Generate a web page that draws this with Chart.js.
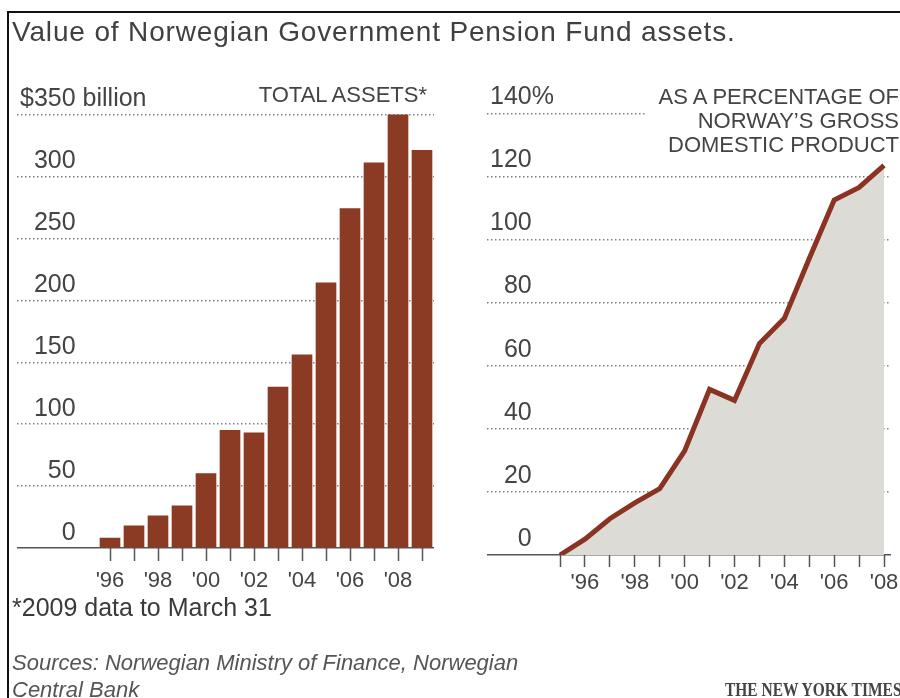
<!DOCTYPE html>
<html lang="en">
<head>
  <meta charset="UTF-8" />
  <title>Value of Norwegian Government Pension Fund assets</title>
  <script src="https://cdn.jsdelivr.net/npm/chart.js"></script>
  <style>
    body {
      margin: 0;
      background: #fff;
      font-family: "Liberation Sans", Arial, sans-serif;
      color: #333;
    }
    .page {
      position: relative;
      width: 900px;
      height: 698px;
      overflow: hidden;
    }
    .frame {
      position: absolute;
      left: 7px;
      top: 11px;
      right: -10px;
      bottom: -10px;
      border-left: 2px solid #111;
      border-top: 2px solid #111;
    }
    .chart-box {
      position: absolute;
      top: 0;
      height: 698px;
    }
    #leftBox { left: 0; width: 450px; }
    #rightBox { left: 450px; width: 480px; }
    .txt {
      position: absolute;
      white-space: nowrap;
    }
    .title {
      left: 12px; top: 18px;
      font-size: 28px; line-height: 28px;
      letter-spacing: 0.85px;
      color: #404040;
    }
    .tag {
      font-size: 22px; line-height: 24px;
      text-align: right;
      color: #444;
    }
    .total { left: 200px; top: 83px; width: 227px; }
    .gdp {
      left: 647px; top: 85px; width: 252px;
      background: #fff;
      z-index: 2;
    }
    .note {
      left: 12px; top: 595px;
      font-size: 25px; line-height: 25px;
      color: #3a3a3a;
    }
    .source {
      left: 12px; top: 649px;
      font-size: 22px; line-height: 27px;
      font-style: italic;
      color: #555;
    }
    .nyt {
      left: 725px; top: 681px;
      font-family: "Liberation Serif", "Times New Roman", serif;
      font-weight: bold;
      font-size: 18px; line-height: 18px;
      color: #444;
      transform: scaleX(0.86);
      transform-origin: left top;
    }
  </style>
</head>
<body>
<div class="page">
  <div class="frame"></div>
  <div class="chart-box" id="leftBox"><canvas id="assetsChart"></canvas></div>
  <div class="chart-box" id="rightBox"><canvas id="gdpChart"></canvas></div>

  <div class="txt title">Value of Norwegian Government Pension Fund assets.</div>
  <div class="txt tag total">TOTAL ASSETS*</div>
  <div class="txt tag gdp">AS A PERCENTAGE OF<br>NORWAY’S GROSS<br>DOMESTIC PRODUCT</div>
  <div class="txt note">*2009 data to March 31</div>
  <div class="txt source">Sources: Norwegian Ministry of Finance, Norwegian<br>Central Bank</div>
  <div class="txt nyt">THE NEW YORK TIMES</div>
</div>

<script>
  // total assets, $ billion (2009 = to March 31)
  const assetYears = [1996, 1997, 1998, 1999, 2000, 2001, 2002, 2003, 2004, 2005, 2006, 2007, 2008, 2009];
  const assetValues = [8, 18, 26, 34, 60, 95, 93, 130, 156, 214, 274, 311, 351, 321];

  // fund as % of GDP
  const gdpYears = [1995, 1996, 1997, 1998, 1999, 2000, 2001, 2002, 2003, 2004, 2005, 2006, 2007, 2008];
  const gdpValues = [0, 5, 11.5, 16.5, 21, 33, 52.5, 49, 67, 75, 94, 112.5, 116.5, 123.5];

  const assetTicks = [0, 50, 100, 150, 200, 250, 300, 350];
  const gdpTicks = [0, 20, 40, 60, 80, 100, 120, 140];

  const FONT = "'Liberation Sans', Arial, sans-serif";
  const TEXT = '#444';
  const RUST = '#8b3a24';

  // adds the unit after the top y label (e.g. "$350" + " billion")
  const unitSuffix = {
    id: 'unitSuffix',
    afterDraw(chart, args, opts) {
      const scale = chart.scales.y;
      const t = scale.options.ticks;
      const top = scale.ticks[scale.ticks.length - 1];
      const ctx = chart.ctx;
      ctx.save();
      ctx.font = Chart.helpers.toFont(t.font).string;
      ctx.fillStyle = t.color;
      ctx.textAlign = 'left';
      ctx.textBaseline = 'middle';
      const x = scale.right + t.padding + ctx.measureText(top.label).width;
      const y = scale.getPixelForValue(top.value) + t.labelOffset;
      ctx.fillText(opts.text, x, y);
      ctx.restore();
    }
  };

  const yearLabel = (v, first) => (v >= first && v % 2 === 0) ? "'" + String(v).slice(2) : '';

  function yScale(ticks, offset, topLabel) {
    return {
      min: ticks[0],
      max: ticks[ticks.length - 1],
      afterBuildTicks: (s) => { s.ticks = ticks.map(v => ({ value: v })); },
      border: {
        display: false,
        dash: (c) => c.tick && c.tick.value === 0 ? [] : [1.5, 2.5]
      },
      grid: {
        drawTicks: false,
        color: (c) => c.tick && c.tick.value === 0 ? '#555' : '#808080',
        lineWidth: (c) => c.tick && c.tick.value === 0 ? 1.6 : 1.4
      },
      ticks: {
        mirror: true,
        crossAlign: 'far',
        padding: 3,
        labelOffset: offset,
        color: TEXT,
        font: { family: FONT, size: 25 },
        callback: (v) => v === ticks[ticks.length - 1] ? topLabel : v
      }
    };
  }

  function xScale(min, max, firstTick, tickLen, pad) {
    return {
      type: 'linear',
      min: min,
      max: max,
      offset: false,
      border: { display: false },
      grid: {
        offset: false,
        drawOnChartArea: false,
        drawTicks: true,
        tickLength: tickLen,
        tickWidth: 1.5,
        tickColor: (c) => c.tick && c.tick.value >= firstTick ? '#555' : 'rgba(0,0,0,0)'
      },
      ticks: {
        stepSize: 1,
        includeBounds: false,
        autoSkip: false,
        maxRotation: 0,
        minRotation: 0,
        padding: pad,
        color: TEXT,
        font: { family: FONT, size: 22 },
        callback: (v) => yearLabel(v, 1996)
      }
    };
  }

  new Chart(document.getElementById('assetsChart'), {
    type: 'bar',
    data: {
      datasets: [{
        label: 'Total assets',
        data: assetYears.map((yr, i) => ({ x: yr, y: assetValues[i] })),
        backgroundColor: RUST,
        borderWidth: 0,
        barThickness: 20
      }]
    },
    options: {
      responsive: true,
      maintainAspectRatio: false,
      animation: false,
      layout: { padding: { top: 114.5, left: 11, right: 16, bottom: 96.6 } },
      plugins: {
        legend: { display: false },
        tooltip: { enabled: false },
        unitSuffix: { text: ' billion' }
      },
      scales: {
        x: xScale(1992.125, 2009.5, 1996, 13, 7),
        y: yScale(assetTicks, -15, '$350')
      }
    },
    plugins: [unitSuffix]
  });

  const gdpY = yScale(gdpTicks, -16, '140');
  gdpY.z = 1;
  const gdpX = xScale(1992.07, 2008.28, 1995, 12, 3);
  gdpX.z = 1;

  new Chart(document.getElementById('gdpChart'), {
    type: 'line',
    data: {
      datasets: [{
        label: 'Share of GDP',
        data: gdpYears.map((yr, i) => ({ x: yr, y: gdpValues[i] })),
        borderColor: '#8a3322',
        borderWidth: 5,
        backgroundColor: '#dcdbd6',
        fill: 'origin',
        pointRadius: 0,
        tension: 0
      }]
    },
    options: {
      responsive: true,
      maintainAspectRatio: false,
      animation: false,
      layout: { padding: { top: 113.3, left: 31, right: 39, bottom: 98.6 } },
      plugins: {
        legend: { display: false },
        tooltip: { enabled: false },
        unitSuffix: { text: '%' }
      },
      scales: {
        x: gdpX,
        y: gdpY
      }
    },
    plugins: [unitSuffix]
  });
</script>
</body>
</html>
